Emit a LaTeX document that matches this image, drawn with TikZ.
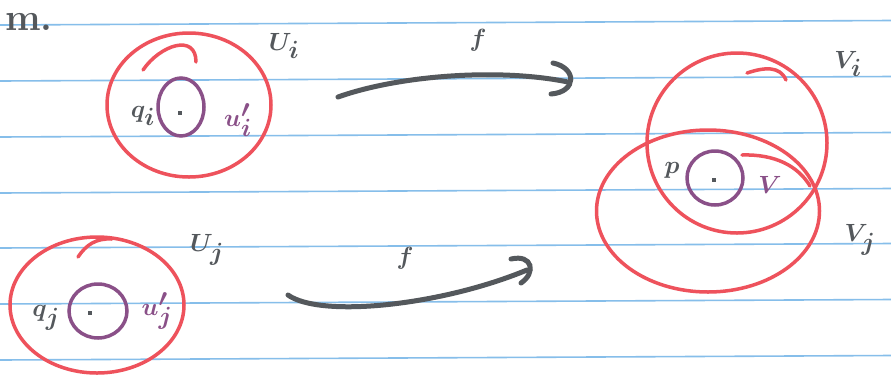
\documentclass[tikz,border=0pt]{standalone}
\usetikzlibrary{shapes.geometric}
\definecolor{penred}{RGB}{238,82,92}
\definecolor{penpurple}{RGB}{138,80,136}
\definecolor{pengray}{RGB}{84,88,92}
\definecolor{ruleblue}{RGB}{134,190,234}
\tikzset{
  redc/.style={ellipse, draw=penred, line width=3.5pt, inner sep=0pt},
  purc/.style={ellipse, draw=penpurple, line width=3.5pt, inner sep=0pt},
  redl/.style={draw=penred, line width=3.5pt, line cap=round},
  grayl/.style={draw=pengray, line width=5pt, line cap=round},
  rule/.style={draw=ruleblue, line width=1.6pt},
  dotn/.style={fill=pengray, minimum size=4.5pt, inner sep=0pt},
  glab/.style={text=pengray, inner sep=0pt, font=\fontsize{48}{52}\selectfont\boldmath},
  slab/.style={text=pengray, inner sep=0pt, font=\fontsize{40}{44}\selectfont\boldmath},
  plab/.style={text=penpurple, inner sep=0pt, font=\fontsize{40}{44}\selectfont\boldmath},
}
\begin{document}
\begin{tikzpicture}[x=1pt,y=-1pt]
\useasboundingbox (0,0) rectangle (891,376);
\fill[white] (0,0) rectangle (891,376);
% ruled lines
\foreach \yy in {25,81,137,193,248,304,360}
  \draw[rule] (0,\yy) -- (891,\yy-4.5);
% top-left scrap
\node[slab, font=\fontsize{38}{42}\selectfont\bfseries, anchor=base west] (m) at (5,30) {m.};
% U_i
\node[redc, minimum width=164pt, minimum height=144pt] (Ui) at (189,105) {};
\draw[redl] (143,70) .. controls (160,45) and (196,33) .. (196,62);
\node[purc, minimum width=46pt, minimum height=58pt] (ui) at (181,107) {};
\node[dotn] (qi) at (180,113) {};
\node[slab] (qil) at (143,116) {$q_i$};
\node[plab] (uil) at (238,120) {$u'_i$};
\node[glab] (Uil) at (284,46) {$U_i$};
% U_j
\node[redc, minimum width=174pt, minimum height=136pt] (Uj) at (97,305) {};
\draw[redl] (78,257) .. controls (86,245) and (96,238) .. (112,239);
\node[purc, minimum width=58pt, minimum height=54pt] (uj) at (98,311) {};
\node[dotn] (qj) at (90,313) {};
\node[slab] (qjl) at (46,318) {$q_j$};
\node[plab] (ujl) at (157,311) {$u'_j$};
\node[glab] (Ujl) at (207,250) {$U_j$};
% V_i and V_j
\node[redc, minimum width=180pt, minimum height=180pt] (Vi) at (737,143) {};
\draw[redl] (747,73) .. controls (765,67) and (780,66) .. (786,80);
\node[redc, minimum width=223pt, minimum height=162pt] (Vj) at (708,211) {};
\draw[redl] (742,155) .. controls (775,154) and (798,166) .. (810,186);
\node[purc, minimum width=56pt, minimum height=54pt] (Vn) at (715,178) {};
\node[dotn] (p) at (714,180) {};
\node[slab] (pl) at (672,170) {$p$};
\node[plab] (Vl) at (770,185) {$V$};
\node[glab] (Vil) at (848,64) {$V_i$};
\node[glab] (Vjl) at (860,240) {$V_j$};
% arrows f
\coordinate (a1s) at (338,97);
\coordinate (a1e) at (568,82);
\draw[grayl] (a1s) .. controls (400,75) and (500,68) .. (a1e);
\draw[grayl] (553,63) .. controls (577,68) and (577,92) .. (551,94);
\node[glab, font=\fontsize{48}{52}\selectfont\boldmath] (f1) at (478,40) {$f$};
\coordinate (a2s) at (288,295);
\coordinate (a2e) at (527,270);
\draw[grayl] (a2s) .. controls (320,318) and (440,306) .. (a2e);
\draw[grayl] (511,259) .. controls (533,254) and (536,273) .. (521,283);
\node[glab, font=\fontsize{48}{52}\selectfont\boldmath] (f2) at (405,258) {$f$};
\end{tikzpicture}
\end{document}
